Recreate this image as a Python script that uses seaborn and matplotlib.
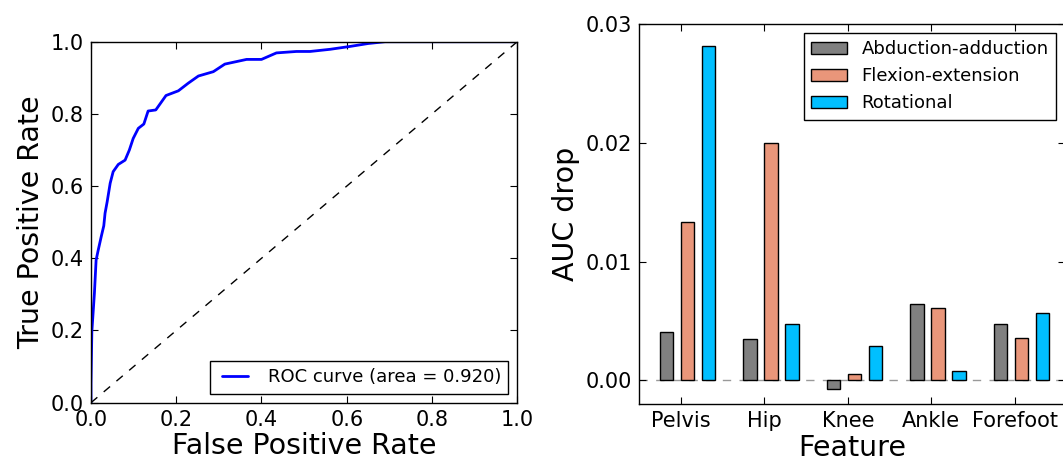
import numpy as np
import pandas as pd
import matplotlib
matplotlib.use("Agg")
import matplotlib.pyplot as plt
import seaborn as sns

# ROC curve of the classifier
fpr = [0, 0, 0.002, 0.008, 0.012, 0.017, 0.024, 0.030, 0.033, 0.038, 0.045,
       0.052, 0.064, 0.080, 0.090, 0.099, 0.111, 0.124, 0.134, 0.152, 0.176,
       0.205, 0.228, 0.252, 0.287, 0.314, 0.365, 0.400, 0.435, 0.482, 0.514,
       0.561, 0.608, 0.650, 0.690, 1.0]
tpr = [0, 0.054, 0.197, 0.303, 0.395, 0.423, 0.460, 0.490, 0.525, 0.557, 0.608,
       0.640, 0.660, 0.672, 0.700, 0.732, 0.760, 0.772, 0.808, 0.811, 0.851,
       0.864, 0.885, 0.905, 0.917, 0.938, 0.951, 0.951, 0.969, 0.973, 0.973,
       0.979, 0.987, 0.995, 1.0, 1.0]
roc_auc = 0.920

# AUC drop per joint and motion plane
features = ["Pelvis", "Hip", "Knee", "Ankle", "Forefoot"]
planes = ["Abduction-adduction", "Flexion-extension", "Rotational"]
abduction = [0.0041, 0.0035, -0.0007, 0.0064, 0.0047]
flexion = [0.0133, 0.0200, 0.0005, 0.0061, 0.0036]
rotational = [0.0282, 0.0047, 0.0029, 0.0008, 0.0057]
plane_colors = ["#808080", "#E9967A", "#00BFFF"]

df = pd.DataFrame({
    "Feature": features * 3,
    "Plane": [p for p in planes for _ in features],
    "AUC drop": abduction + flexion + rotational,
})

sns.set_style("white")
plt.rcParams.update({
    "font.family": ["DejaVu Sans"],
    "axes.edgecolor": "black",
    "axes.linewidth": 1.0,
    "xtick.direction": "in",
    "ytick.direction": "in",
    "xtick.top": True,
    "ytick.right": True,
    "xtick.bottom": True,
    "ytick.left": True,
    "xtick.major.size": 5,
    "ytick.major.size": 5,
    "xtick.major.width": 0.8,
    "ytick.major.width": 0.8,
    "xtick.major.pad": 5,
    "ytick.major.pad": 5,
    "xtick.color": "black",
    "ytick.color": "black",
    "axes.labelcolor": "black",
    "text.color": "black",
})

TICK_FS = 15
LABEL_FS = 20.5
LEGEND_FS = 13

fig = plt.figure(figsize=(10.63, 4.61), dpi=100)
ax1 = fig.add_axes([0.0856, 0.1265, 0.401, 0.783])
ax2 = fig.add_axes([0.6011, 0.1236, 0.4008, 0.824])

# Left: ROC curve
sns.lineplot(x=fpr, y=tpr, sort=False, estimator=None, color="#0000FF",
             linewidth=2, ax=ax1, label=f"ROC curve (area = {roc_auc:.3f})")
ax1.plot([0, 1], [0, 1], color="black", linestyle=(0, (6, 6)), linewidth=1)
ax1.set_xlim(0, 1)
ax1.set_ylim(0, 1.0)
ax1.set_xticks(np.arange(0, 1.01, 0.2))
ax1.set_yticks(np.arange(0, 1.01, 0.2))
ax1.tick_params(labelsize=TICK_FS)
ax1.set_xlabel("False Positive Rate", fontsize=LABEL_FS, labelpad=2)
ax1.set_ylabel("True Positive Rate", fontsize=LABEL_FS)
leg1 = ax1.legend(loc="lower right", fontsize=LEGEND_FS, numpoints=2,
                  fancybox=False, framealpha=1, edgecolor="black",
                  handlelength=2.0, handletextpad=0.8, borderpad=0.4)
leg1.get_frame().set_linewidth(1.0)

# Right: AUC drop bars
ax2.axhline(0, color="#999999", linestyle=(0, (6, 6)), linewidth=1, zorder=0)
sns.barplot(data=df, x="Feature", y="AUC drop", hue="Plane", order=features,
            hue_order=planes, palette=plane_colors, width=0.75, gap=0.36,
            edgecolor="black", linewidth=1, errorbar=None, saturation=1,
            ax=ax2)
ax2.set_xticks(np.arange(len(features)) - 0.08)
ax2.set_xticklabels(features)
ax2.set_xlim(-0.58, 4.52)
ax2.set_ylim(-0.002, 0.03)
ax2.set_yticks([0.0, 0.01, 0.02, 0.03])
ax2.set_yticklabels(["0.00", "0.01", "0.02", "0.03"])
ax2.tick_params(labelsize=TICK_FS)
ax2.set_xlabel("Feature", fontsize=LABEL_FS, labelpad=2)
ax2.set_ylabel("AUC drop", fontsize=LABEL_FS)
leg2 = ax2.legend(loc="upper right", fontsize=LEGEND_FS, fancybox=False,
                  framealpha=1, edgecolor="black", handlelength=2.0,
                  handletextpad=0.8, borderpad=0.4, labelspacing=0.5)
leg2.get_frame().set_linewidth(1.0)

fig.savefig("out.png", dpi=100)
